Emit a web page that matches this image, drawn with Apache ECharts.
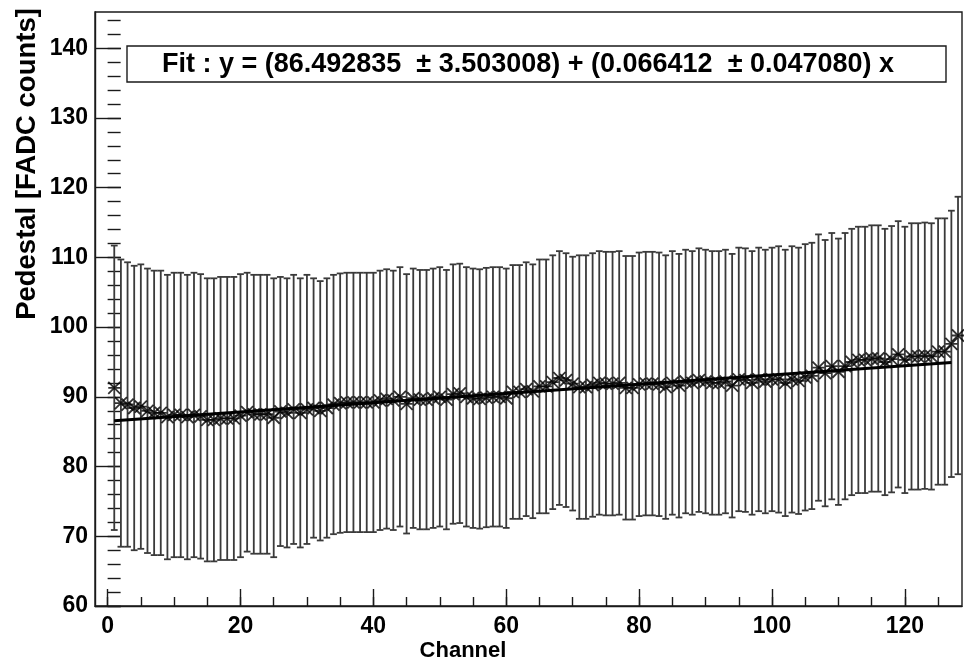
<!DOCTYPE html>
<html>
<head>
<meta charset="utf-8">
<script src="https://cdn.jsdelivr.net/npm/echarts@6/dist/echarts.min.js"></script>
<style>
html,body{margin:0;padding:0;background:#fff;}
#chart{width:964px;height:664px;}
</style>
</head>
<body>
<div id="chart"></div>
<script>
// Channel numbers
const channels = [1,2,3,4,5,6,7,8,9,10,11,12,13,14,15,16,17,18,19,20,21,22,23,24,25,26,27,28,29,30,31,32,
33,34,35,36,37,38,39,40,41,42,43,44,45,46,47,48,49,50,51,52,53,54,55,56,57,58,59,60,61,62,63,64,
65,66,67,68,69,70,71,72,73,74,75,76,77,78,79,80,81,82,83,84,85,86,87,88,89,90,91,92,93,94,95,96,
97,98,99,100,101,102,103,104,105,106,107,108,109,110,111,112,113,114,115,116,117,118,119,120,121,122,123,124,125,126,127,128];

// Pedestal means (FADC counts)
const pedestal = [91.3,89.1,88.9,88.4,88.6,88.0,87.7,87.7,87.1,87.4,87.4,87.1,87.4,87.2,86.7,86.7,
86.9,86.9,86.9,87.3,87.8,87.5,87.5,87.5,87.0,87.9,87.7,88.2,87.7,88.2,88.4,88.0,
88.4,88.9,89.1,89.2,89.2,89.2,89.2,89.2,89.5,89.7,89.5,90.0,89.0,89.8,89.6,89.6,
89.8,90.0,89.6,90.4,90.5,90.0,89.8,89.7,89.9,90.0,90.0,89.8,90.7,90.7,91.1,90.8,
91.5,91.5,92.1,92.7,92.4,91.9,91.4,91.4,91.7,92.0,91.9,91.9,92.0,91.3,91.3,91.8,
91.9,91.9,91.8,91.4,92.0,91.6,92.2,92.0,92.4,92.2,92.0,92.0,92.2,91.6,92.5,92.4,
92.0,92.5,92.2,92.5,92.5,92.0,92.5,92.3,92.8,93.0,94.2,93.4,94.4,93.6,94.4,95.0,
95.3,95.3,95.5,95.5,95.0,95.4,96.1,95.3,95.8,95.8,95.9,95.8,96.5,96.5,97.6,98.8];

// Errors (FADC counts)
const pedError = [20.4,20.6,20.4,20.4,20.4,20.4,20.4,20.4,20.4,20.4,20.4,20.4,20.4,20.4,20.3,20.3,
20.3,20.3,20.3,20.3,20.0,20.0,20.0,20.0,20.0,19.3,19.3,19.3,19.3,19.3,18.6,18.6,
18.6,18.6,18.6,18.6,18.6,18.6,18.6,18.6,18.6,18.6,18.6,18.6,18.6,18.6,18.6,18.6,
18.6,18.6,18.6,18.6,18.6,18.6,18.6,18.6,18.6,18.6,18.6,18.6,18.2,18.2,18.2,18.2,
18.2,18.2,18.2,18.2,18.2,18.2,18.9,18.9,18.9,18.9,18.9,18.9,18.9,18.9,18.9,18.9,
18.9,18.9,18.9,18.9,18.9,18.9,18.9,18.9,18.9,18.9,18.9,18.9,18.9,18.9,18.9,18.9,
18.9,18.9,18.9,18.9,19.1,19.1,19.1,19.1,19.1,19.1,19.1,19.1,19.1,19.1,19.1,19.1,
19.1,19.1,19.1,19.1,19.1,19.1,19.1,19.1,19.1,19.1,19.1,19.1,19.1,19.1,19.1,19.9];

// Fit parameters and range
const fitP0 = 86.492835, fitP0Err = 3.503008;
const fitP1 = 0.066412, fitP1Err = 0.047080;
const fitRange = [1, 127];

// Tick values
const xMajorTicks = [0,20,40,60,80,100,120];
const xMinorTicks = [0,5,10,15,20,25,30,35,40,45,50,55,60,65,70,75,80,85,90,95,100,105,110,115,120,125];
const yMajorTicks = [60,70,80,90,100,110,120,130,140];
const yMinorTicks = [60,62,64,66,68,70,72,74,76,78,80,82,84,86,88,90,92,94,96,98,100,102,104,106,108,110,112,114,116,118,120,122,124,126,128,130,132,134,136,138,140,142,144];

const FONT = '"Liberation Sans", Arial, Helvetica, sans-serif';

const errData = channels.map((c, i) => [c, pedestal[i] - pedError[i], pedestal[i] + pedError[i]]);
const ptData = channels.map((c, i) => [c, pedestal[i]]);
const fitData = fitRange.map(x => [x, fitP0 + fitP1 * x]);

const fitText = 'Fit : y = (' + fitP0.toFixed(6) + '  \u00B1 ' + fitP0Err.toFixed(6) + ') + (' +
  fitP1.toFixed(6) + '  \u00B1 ' + fitP1Err.toFixed(6) + ') x';

const chart = echarts.init(document.getElementById('chart'), null, {renderer: 'canvas'});

const xBase = {type: 'value', min: -1.9, max: 128.6, splitLine: {show: false}, position: 'bottom'};
const yBase = {type: 'value', min: 60, max: 145.2, splitLine: {show: false}, position: 'left'};
const AX = '#1a1a1a';

chart.setOption({
  animation: false,
  backgroundColor: '#fff',
  grid: {left: 95, right: 2, top: 12, bottom: 58, show: true, borderColor: AX, borderWidth: 1.4, backgroundColor: 'transparent'},
  xAxis: [
    Object.assign({}, xBase, {
      axisLine: {show: true, onZero: false, lineStyle: {color: AX, width: 1.4}},
      axisTick: {show: true, inside: true, length: 17, customValues: xMajorTicks, lineStyle: {color: AX, width: 1.4}},
      axisLabel: {show: true, customValues: xMajorTicks, margin: 9, color: '#000', fontFamily: FONT, fontWeight: 'bold', fontSize: 23}
    }),
    Object.assign({}, xBase, {
      axisLine: {show: false},
      axisTick: {show: true, inside: true, length: 9, customValues: xMinorTicks, lineStyle: {color: AX, width: 1.4}},
      axisLabel: {show: false}
    })
  ],
  yAxis: [
    Object.assign({}, yBase, {
      axisLine: {show: true, onZero: false, lineStyle: {color: AX, width: 1.4}},
      axisTick: {show: true, inside: true, length: 26, customValues: yMajorTicks, lineStyle: {color: AX, width: 1.4}},
      axisLabel: {show: true, customValues: yMajorTicks, margin: 7, color: '#000', fontFamily: FONT, fontWeight: 'bold', fontSize: 23}
    }),
    Object.assign({}, yBase, {
      axisLine: {show: false},
      axisTick: {show: true, inside: true, length: 13, customValues: yMinorTicks, lineStyle: {color: AX, width: 1.4}},
      axisLabel: {show: false}
    })
  ],
  series: [
    {
      type: 'custom',
      xAxisIndex: 0, yAxisIndex: 0,
      data: errData,
      z: 2,
      renderItem: function (params, api) {
        const x = api.value(0);
        const pLo = api.coord([x, api.value(1)]);
        const pHi = api.coord([x, api.value(2)]);
        const w = 3.4;
        const st = {stroke: '#3a3a3a', lineWidth: 1.8};
        return {
          type: 'group',
          children: [
            {type: 'line', shape: {x1: pLo[0], y1: pLo[1], x2: pHi[0], y2: pHi[1]}, style: st},
            {type: 'line', shape: {x1: pHi[0] - w, y1: pHi[1], x2: pHi[0] + w, y2: pHi[1]}, style: st},
            {type: 'line', shape: {x1: pLo[0] - w, y1: pLo[1], x2: pLo[0] + w, y2: pLo[1]}, style: st}
          ]
        };
      }
    },
    {
      type: 'scatter',
      xAxisIndex: 0, yAxisIndex: 0,
      data: ptData,
      z: 3,
      symbol: 'path://M0,0L10,10M10,0L0,10M0,5L10,5',
      symbolSize: 12,
      itemStyle: {color: 'transparent', borderColor: '#000', borderWidth: 1.8}
    },
    {
      type: 'line',
      xAxisIndex: 0, yAxisIndex: 0,
      data: fitData,
      z: 4,
      symbol: 'none',
      lineStyle: {color: '#000', width: 3}
    }
  ],
  graphic: [
    {
      type: 'rect', z: 10,
      shape: {x: 127, y: 46, width: 819, height: 36},
      style: {fill: '#fff', stroke: AX, lineWidth: 1.4}
    },
    {
      type: 'text', z: 11,
      x: 528, y: 65,
      style: {text: fitText, fill: '#000', font: 'bold 27px ' + FONT, textAlign: 'center', textVerticalAlign: 'middle'}
    },
    {
      type: 'text', z: 11,
      x: 27, y: 164, rotation: Math.PI / 2,
      style: {text: 'Pedestal [FADC counts]', fill: '#000', font: 'bold 27.5px ' + FONT, textAlign: 'center', textVerticalAlign: 'middle'}
    },
    {
      type: 'text', z: 11,
      x: 463, y: 651,
      style: {text: 'Channel', fill: '#000', font: 'bold 22px ' + FONT, textAlign: 'center', textVerticalAlign: 'middle'}
    }
  ]
});
</script>
</body>
</html>
